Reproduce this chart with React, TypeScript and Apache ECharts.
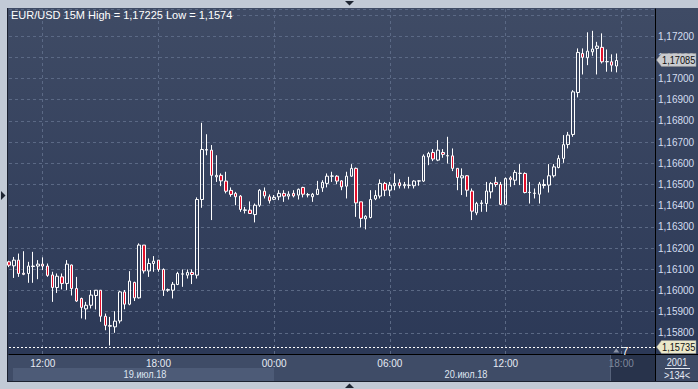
import React, { useEffect, useRef } from 'react';
import * as echarts from 'echarts';

// ---- data (EUR/USD, 15 minute bars) ----
const opens = [
  1.16135, 1.16116, 1.16143, 1.16081, 1.1608, 1.16113, 1.16115, 1.16124, 1.16115, 1.16073,
  1.16014, 1.16064, 1.16033, 1.1612, 1.16009, 1.15962, 1.15913, 1.1593, 1.15976, 1.16001,
  1.15878, 1.15831, 1.15828, 1.15856, 1.15993, 1.15935, 1.16038, 1.15965, 1.16214, 1.16092,
  1.16127, 1.16143, 1.16099, 1.16001, 1.16001, 1.16028, 1.16077, 1.16072, 1.16085, 1.16072,
  1.16429, 1.16662, 1.16662, 1.16536, 1.16543, 1.16516, 1.16472, 1.16458, 1.16445, 1.16378,
  1.16379, 1.16358, 1.16402, 1.16468, 1.16442, 1.1643, 1.16442, 1.16458, 1.16445, 1.16458,
  1.1645, 1.16486, 1.16451, 1.16442, 1.16453, 1.16484, 1.16505, 1.16539, 1.16539, 1.16517,
  1.16492, 1.16539, 1.16576, 1.16418, 1.16338, 1.16344, 1.16432, 1.16445, 1.16505, 1.16473,
  1.16494, 1.16508, 1.16494, 1.16496, 1.16494, 1.16516, 1.16516, 1.1663, 1.16651, 1.16615,
  1.16651, 1.16635, 1.16635, 1.16576, 1.16531, 1.16541, 1.16469, 1.16366, 1.1641, 1.1641,
  1.16465, 1.1651, 1.165, 1.16406, 1.16531, 1.1652, 1.16552, 1.16552, 1.16462, 1.16458,
  1.16454, 1.16495, 1.16497, 1.16541, 1.1658, 1.16623, 1.16689, 1.16736, 1.16934, 1.17118,
  1.17098, 1.17126, 1.17142, 1.17147, 1.17079, 1.17079, 1.17059,
];
const closes = [
  1.16119, 1.16143, 1.1608, 1.16076, 1.16115, 1.16115, 1.16124, 1.16115, 1.16071, 1.16014,
  1.16067, 1.16033, 1.16124, 1.16009, 1.1595, 1.1592, 1.1593, 1.15978, 1.16001, 1.15878,
  1.15835, 1.15834, 1.15855, 1.15993, 1.15935, 1.16044, 1.15965, 1.16214, 1.16092, 1.16127,
  1.16138, 1.16099, 1.16001, 1.16004, 1.16029, 1.1608, 1.16078, 1.16085, 1.16075, 1.16429,
  1.16665, 1.16665, 1.16543, 1.16543, 1.16517, 1.16468, 1.16453, 1.16442, 1.16382, 1.1638,
  1.16363, 1.16402, 1.16473, 1.16446, 1.16423, 1.16439, 1.16458, 1.16445, 1.16454, 1.16446,
  1.16477, 1.16454, 1.16452, 1.16454, 1.16477, 1.1651, 1.16539, 1.1654, 1.16516, 1.16489,
  1.16539, 1.16576, 1.16413, 1.1634, 1.1635, 1.16429, 1.16448, 1.16505, 1.16473, 1.16497,
  1.16505, 1.16494, 1.165, 1.16497, 1.16516, 1.16517, 1.16634, 1.16646, 1.1662, 1.16662,
  1.16642, 1.16636, 1.16576, 1.16533, 1.16541, 1.16473, 1.16374, 1.1641, 1.16413, 1.16469,
  1.16505, 1.165, 1.16406, 1.16528, 1.16524, 1.16557, 1.16553, 1.16462, 1.16463, 1.16459,
  1.16502, 1.165, 1.16541, 1.16583, 1.16623, 1.16688, 1.16733, 1.16937, 1.17123, 1.171,
  1.17129, 1.17139, 1.17153, 1.17079, 1.1708, 1.17063, 1.17085,
];
const lows = [
  1.1611, 1.16059, 1.16064, 1.16072, 1.16036, 1.16036, 1.16053, 1.16096, 1.16064, 1.15946,
  1.15988, 1.16005, 1.16001, 1.15976, 1.15946, 1.15868, 1.15863, 1.15915, 1.1591, 1.15852,
  1.15812, 1.1574, 1.158, 1.15844, 1.15911, 1.1593, 1.1595, 1.15962, 1.1608, 1.16064,
  1.16088, 1.16088, 1.15974, 1.15993, 1.15962, 1.16025, 1.16017, 1.16056, 1.1603, 1.16056,
  1.1639, 1.16638, 1.16332, 1.16512, 1.16492, 1.16458, 1.16442, 1.16402, 1.16371, 1.16363,
  1.16363, 1.16321, 1.16394, 1.16434, 1.1641, 1.16426, 1.16426, 1.16418, 1.16429, 1.16439,
  1.16429, 1.16439, 1.16439, 1.16418, 1.1645, 1.16465, 1.16486, 1.16512, 1.16501, 1.16473,
  1.16434, 1.16536, 1.16347, 1.16297, 1.16288, 1.1634, 1.16426, 1.16434, 1.16445, 1.16445,
  1.16473, 1.16481, 1.16481, 1.16481, 1.16481, 1.16494, 1.16512, 1.16591, 1.1661, 1.1661,
  1.16626, 1.16599, 1.16563, 1.16473, 1.1645, 1.16442, 1.16332, 1.16355, 1.16371, 1.16371,
  1.16434, 1.16489, 1.16402, 1.16402, 1.16489, 1.16497, 1.16497, 1.16458, 1.1641, 1.16434,
  1.1641, 1.16481, 1.16462, 1.16533, 1.16576, 1.16602, 1.1667, 1.16725, 1.16911, 1.17019,
  1.17063, 1.17107, 1.17019, 1.17071, 1.17032, 1.17032, 1.17029,
];
const highs = [
  1.1614, 1.16158, 1.16174, 1.16185, 1.16135, 1.16182, 1.16143, 1.16156, 1.16127, 1.16088,
  1.1608, 1.1608, 1.16143, 1.16122, 1.16064, 1.15966, 1.15946, 1.16002, 1.16002, 1.16002,
  1.15891, 1.15875, 1.15902, 1.15998, 1.16002, 1.16091, 1.16041, 1.16222, 1.16214, 1.16151,
  1.16162, 1.16143, 1.16104, 1.16009, 1.1604, 1.16088, 1.16099, 1.16099, 1.16099, 1.16439,
  1.16791, 1.16737, 1.16686, 1.16638, 1.16552, 1.1656, 1.16486, 1.16465, 1.1645, 1.16394,
  1.1642, 1.1641, 1.16478, 1.16486, 1.16453, 1.1645, 1.16473, 1.16473, 1.16468, 1.16473,
  1.16481, 1.16489, 1.1646, 1.1646, 1.16517, 1.1652, 1.16552, 1.1656, 1.16544, 1.1652,
  1.1656, 1.16596, 1.1658, 1.16418, 1.16355, 1.16473, 1.16473, 1.16524, 1.16512, 1.16512,
  1.16552, 1.16525, 1.16512, 1.16536, 1.1652, 1.1652, 1.16642, 1.16654, 1.16667, 1.16709,
  1.16667, 1.16725, 1.1667, 1.16576, 1.16576, 1.16544, 1.16481, 1.16418, 1.16426, 1.16512,
  1.16512, 1.16536, 1.16512, 1.16533, 1.16539, 1.16568, 1.16596, 1.16557, 1.16512, 1.16481,
  1.16512, 1.16524, 1.16596, 1.16596, 1.16638, 1.16733, 1.16748, 1.16945, 1.17142, 1.17142,
  1.17218, 1.17225, 1.17173, 1.17213, 1.17137, 1.17114, 1.17118,
];

const SLOT_COUNT = 135; // bars visible on screen incl. empty slots on the right
const START_MINUTES = 10 * 60 + 15; // first bar 10:15
const BAR_MINUTES = 15;
const TICK_HOURS = [0, 6, 12, 18];
const FUTURE_FROM = 127; // first empty slot (18:00 label shown dimmed)
const dayLabels = ['19.июл.18', '20.июл.18'];
const titleText = 'EUR/USD 15M High = 1,17225 Low = 1,1574';
const lastPrice = 1.17085;
const lowLine = 1.15735;
const totalBarsText = '2001';
const visibleBarsText = '>134<';
const shiftText = '7';

const pad = (n: number) => (n < 10 ? '0' + n : '' + n);
const categories: string[] = [];
for (let i = 0; i < SLOT_COUNT; i++) {
  const m = START_MINUTES + i * BAR_MINUTES;
  categories.push(pad(Math.floor(m / 60) % 24) + ':' + pad(m % 60));
}
const isTick = (label: string) => {
  const [h, m] = label.split(':').map(Number);
  return m === 0 && TICK_HOURS.includes(h);
};

const FONT = '"Liberation Sans", Arial, sans-serif';
const NARROW = 0.84;
const fmt = (v: number) => v.toFixed(5).replace('.', ',');

export default function App() {
  const ref = useRef<HTMLDivElement>(null);

  useEffect(() => {
    const el = ref.current;
    if (!el) return;
    const chart = echarts.init(el, null, { renderer: 'svg' });

    const candleData = categories.map((_, i) =>
      i < opens.length ? [opens[i], closes[i], lows[i], highs[i]] : '-'
    );
    const xData = categories.map((c, i) =>
      i >= FUTURE_FROM ? { value: c, textStyle: { color: '#7f889b' } } : c
    );

    chart.setOption({
      animation: false,
      backgroundColor: 'transparent',
      grid: { left: 9, right: 43, top: 9, bottom: 35, containLabel: false },
      xAxis: {
        type: 'category',
        data: xData,
        boundaryGap: false,
        axisLine: { show: true, lineStyle: { color: '#000000', width: 1 } },
        axisTick: { show: false },
        axisLabel: {
          interval: (idx: number) => isTick(categories[idx]),
          color: '#e6ebf4',
          fontFamily: FONT,
          fontSize: 10,
          margin: 4,
        },
        splitLine: {
          show: true,
          interval: (idx: number) => isTick(categories[idx]),
          lineStyle: { color: '#5b6985', type: [3, 3], width: 1 },
        },
      },
      yAxis: {
        type: 'value',
        position: 'right',
        min: 1.157,
        max: 1.17328,
        interval: 0.001,
        scale: true,
        axisLine: { show: true, onZero: false, lineStyle: { color: '#000000', width: 1 } },
        axisTick: { show: false },
        axisLabel: {
          color: '#d4def0',
          fontFamily: FONT,
          fontSize: 10,
          margin: 3,
          formatter: (v: number) => {
            const k = v * 1000;
            if (Math.abs(k - Math.round(k)) > 1e-6) return '';
            if (v < 1.1575 || v > 1.1729) return '';
            return fmt(v);
          },
        },
        splitLine: { show: true, lineStyle: { color: '#5b6985', type: [3, 3], width: 1 } },
      },
      series: [
        {
          type: 'candlestick',
          data: candleData,
          barWidth: 3,
          itemStyle: {
            color: 'rgba(0,0,0,0)',
            color0: '#e3102c',
            borderColor: '#ffffff',
            borderColor0: '#ffffff',
            borderWidth: 1,
          },
        },
      ],
    });

    const yPix = (v: number) => chart.convertToPixel({ yAxisIndex: 0 }, v) as number;
    const xPix = (i: number) => chart.convertToPixel({ xAxisIndex: 0 }, i) as number;
    const gridLeft = xPix(0);

    const label = (text: string, x: number, y: number, fill: string, align: string = 'left', scale: number = NARROW) => ({
      type: 'text',
      x,
      y,
      z: 100,
      scaleX: scale,
      style: {
        text,
        fill,
        font: `11px ${FONT}`,
        align,
        verticalAlign: 'middle',
      },
    });

    const tag = (price: number, fill: string) => {
      const y = Math.round(yPix(price));
      return [
        {
          type: 'polygon',
          z: 99,
          shape: {
            points: [
              [656.5, y],
              [661.5, y - 6.5],
              [696, y - 6.5],
              [696, y + 6.5],
              [661.5, y + 6.5],
            ],
          },
          style: { fill, stroke: '#8d8d8d', lineWidth: 0.5 },
        },
        label(fmt(price), 662, y, '#111111'),
      ];
    };

    const dayCenters = [145, 466];
    const fx = xPix(FUTURE_FROM);
    const lowY = Math.round(yPix(lowLine)) + 0.5;

    chart.setOption({
      graphic: [
        label(titleText, 11, 15, '#ffffff', 'left', 1),
        ...dayLabels.map((d, k) => label(d, dayCenters[k], 374, '#dfe6f2', 'center')),
        {
          type: 'line',
          z: 90,
          shape: { x1: gridLeft, y1: lowY, x2: 655, y2: lowY },
          style: { stroke: '#ffffff', lineWidth: 1, lineDash: [2, 2] },
        },
        ...tag(lastPrice, '#c9cbcf'),
        ...tag(lowLine, '#ebe8c9'),
        {
          type: 'polygon',
          z: 99,
          shape: { points: [[fx - 8, lowY + 5], [fx - 2, lowY + 5], [fx - 5, lowY + 1]] },
          style: { fill: '#8a93a6' },
        },
        label(shiftText, fx + 1, lowY + 3, '#ffffff', 'left', 1),
        label(totalBarsText, 677, 362, '#e6ebf4', 'center'),
        {
          type: 'line',
          shape: { x1: 665, y1: 368.5, x2: 690, y2: 368.5 },
          style: { stroke: '#e6ebf4', lineWidth: 1 },
        },
        label(visibleBarsText, 677, 375, '#e6ebf4', 'center'),
        {
          type: 'line',
          shape: { x1: 655.5, y1: 354, x2: 655.5, y2: 381 },
          style: { stroke: '#000000', lineWidth: 1 },
        },
        {
          type: 'line',
          shape: { x1: 655, y1: 354.5, x2: 698, y2: 354.5 },
          style: { stroke: '#000000', lineWidth: 1 },
        },
        { type: 'polygon', shape: { points: [[345, 1], [354, 1], [349.5, 5.5]] }, style: { fill: '#1e2532' } },
        { type: 'polygon', shape: { points: [[1, 191], [1, 200], [5.5, 195.5]] }, style: { fill: '#1e2532' } },
        { type: 'polygon', shape: { points: [[345, 388], [354, 388], [349.5, 383.5]] }, style: { fill: '#1e2532' } },
      ],
    });

    return () => chart.dispose();
  }, []);

  return (
    <div style={{ position: 'fixed', left: 0, top: 0, width: 698, height: 389, background: '#c2cad6', overflow: 'hidden' }}>
      <div
        style={{
          position: 'absolute',
          left: 7,
          top: 8,
          width: 691,
          height: 374,
          background: 'linear-gradient(to bottom, #3f4b65 0%, #2c3957 92%)',
          borderLeft: '1px solid #1b2130',
          borderBottom: '1px solid #1b2130',
          boxSizing: 'border-box',
        }}
      />
      <div style={{ position: 'absolute', left: 8, top: 355, width: 647, height: 26, background: '#3f4c67' }} />
      <div style={{ position: 'absolute', left: 13, top: 368, width: 261, height: 13, background: '#4d5b77' }} />
      <div
        style={{
          position: 'absolute',
          left: 610,
          top: 355,
          width: 45,
          height: 26,
          background: '#28334b',
          borderLeft: '1px solid #56627a',
          boxSizing: 'border-box',
        }}
      />
      <div style={{ position: 'absolute', left: 656, top: 355, width: 42, height: 26, background: '#3d4a65' }} />
      <div ref={ref} style={{ position: 'absolute', left: 0, top: 0, width: 698, height: 389 }} />
    </div>
  );
}
